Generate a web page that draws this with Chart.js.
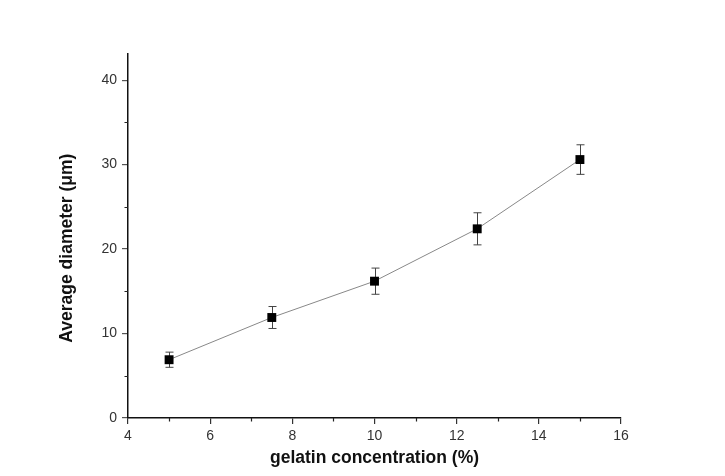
<!DOCTYPE html>
<html>
<head>
<meta charset="utf-8">
<script src="https://cdn.jsdelivr.net/npm/chart.js@4"></script>
<style>
  html, body { margin: 0; padding: 0; background: #fff; }
  #wrap { width: 725px; height: 476px; }
</style>
</head>
<body>
<div id="wrap"><canvas id="diameter-chart" width="725" height="476"></canvas></div>
<script>
// gelatin concentration (%) vs average diameter (um)
const concentration = [5, 7.5, 10, 12.5, 15];
const diameter = [6.9, 11.9, 16.2, 22.4, 30.6];
const diameterErr = [0.9, 1.3, 1.55, 1.9, 1.75];

const xTicks = [4, 6, 8, 10, 12, 14, 16];
const xMinorTicks = [5, 7, 9, 11, 13, 15];
const yTicks = [0, 10, 20, 30, 40];
const yMinorTicks = [5, 15, 25, 35];

// error bars + minor ticks
const extras = {
    id: "extras",
    beforeDatasetsDraw(chart) {
        const ctx = chart.ctx;
        const xs = chart.scales.x, ys = chart.scales.y;
        ctx.save();
        ctx.strokeStyle = "#444";
        ctx.lineWidth = 1;
        concentration.forEach((c, i) => {
            const px = Math.round(xs.getPixelForValue(c)) + 0.5;
            const top = ys.getPixelForValue(diameter[i] + diameterErr[i]);
            const bot = ys.getPixelForValue(diameter[i] - diameterErr[i]);
            ctx.beginPath();
            ctx.moveTo(px, top); ctx.lineTo(px, bot);
            ctx.moveTo(px - 4, top); ctx.lineTo(px + 4, top);
            ctx.moveTo(px - 4, bot); ctx.lineTo(px + 4, bot);
            ctx.stroke();
        });
        ctx.restore();
    },
    afterDraw(chart) {
        const ctx = chart.ctx;
        const xs = chart.scales.x, ys = chart.scales.y;
        const area = chart.chartArea;
        ctx.save();
        ctx.strokeStyle = "#222";
        ctx.lineWidth = 1.2;
        ctx.beginPath();
        xMinorTicks.forEach(v => {
            const px = Math.round(xs.getPixelForValue(v)) + 0.5;
            ctx.moveTo(px, area.bottom); ctx.lineTo(px, area.bottom + 3.5);
        });
        yMinorTicks.forEach(v => {
            const py = Math.round(ys.getPixelForValue(v)) + 0.5;
            ctx.moveTo(area.left, py); ctx.lineTo(area.left - 3.5, py);
        });
        ctx.stroke();
        ctx.restore();
    }
};

const ctx = document.getElementById("diameter-chart").getContext("2d");
new Chart(ctx, {
    type: "line",
    data: {
        datasets: [{
            data: concentration.map((c, i) => ({x: c, y: diameter[i]})),
            borderColor: "#888",
            borderWidth: 1,
            backgroundColor: "#000",
            pointBackgroundColor: "#000",
            pointBorderColor: "#000",
            pointStyle: "rect",
            pointRadius: 6.3,
            pointBorderWidth: 0,
            tension: 0
        }]
    },
    options: {
        responsive: false,
        animation: false,
        layout: {padding: {left: 0, top: 54, right: 104, bottom: 0}},
        plugins: {
            legend: {display: false},
            tooltip: {enabled: false}
        },
        scales: {
            x: {
                type: "linear",
                min: 4,
                max: 16,
                afterBuildTicks: s => { s.ticks = xTicks.map(v => ({value: v})); },
                afterFit: s => { s.height = 58; },
                border: {display: true, color: "#111", width: 1.5},
                grid: {drawOnChartArea: false, tickLength: 6, color: "#333", lineWidth: 1.2},
                ticks: {color: "#333", font: {family: "Liberation Sans, Arial", size: 14}, padding: 4, maxRotation: 0},
                title: {
                    display: true,
                    text: "gelatin concentration (%)",
                    color: "#111",
                    font: {family: "Liberation Sans, Arial", size: 17.5, weight: "bold"},
                    padding: {top: 0, bottom: 7.5}
                }
            },
            y: {
                min: 0,
                max: 43.1,
                afterBuildTicks: s => { s.ticks = yTicks.map(v => ({value: v})); },
                afterFit: s => { s.width = 128; },
                border: {display: true, color: "#111", width: 1.5},
                grid: {drawOnChartArea: false, tickLength: 6, color: "#555", lineWidth: 1.2},
                ticks: {color: "#333", font: {family: "Liberation Sans, Arial", size: 14}, padding: 5},
                title: {
                    display: true,
                    text: "Average diameter (\u03bcm)     ",
                    color: "#111",
                    font: {family: "Liberation Sans, Arial", size: 17.5, weight: "bold"},
                    padding: {top: 57, bottom: 0}
                }
            }
        }
    },
    plugins: [extras]
});
</script>
</body>
</html>
